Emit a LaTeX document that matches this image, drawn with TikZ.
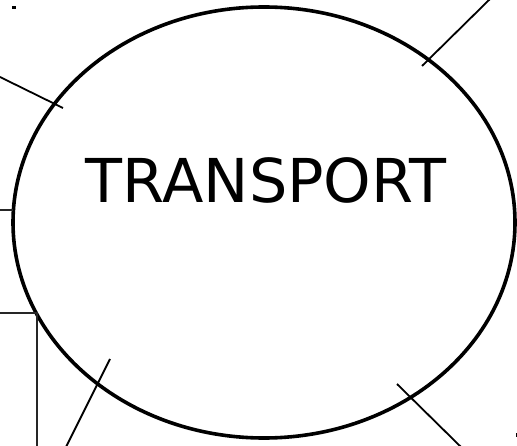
\documentclass[tikz,border=0pt]{standalone}
\usepackage{fontspec}
\setmainfont{DejaVu Sans}
\usetikzlibrary{shapes.geometric}

\begin{document}
\begin{tikzpicture}[x=1pt,y=-1pt]
  \tikzset{
    ray/.style={line width=1.8pt},
    frame/.style={line width=1.2pt,draw=black!85}
  }
  \useasboundingbox (0,0) rectangle (517,446);
  \node[draw,ellipse,line width=3.6pt,inner sep=0pt,
        minimum width=502pt,minimum height=431pt] (transport) at (264,222.5) {};
  \node[font=\fontsize{60.5}{72}\selectfont] (title) at (266,180.5) {TRANSPORT};
  % lines sticking out of the ellipse
  \coordinate (ulin) at (63,108);   \coordinate (ulout) at (0,77);
  \coordinate (urin) at (422,66);   \coordinate (urout) at (490,-1);
  \coordinate (llin) at (110,359);  \coordinate (llout) at (66,447);
  \coordinate (lrin) at (397,384);  \coordinate (lrout) at (461,447);
  \draw[ray] (ulin) -- (ulout);
  \draw[ray] (urin) -- (urout);
  \draw[ray] (llin) -- (llout);
  \draw[ray] (lrin) -- (lrout);
  % left side
  \coordinate (westtick) at (13,210);
  \draw[frame] (westtick) -- (0,210);
  \coordinate (corner) at (37,313);
  \draw[frame] (0,313) -- (corner) -- (37,447);
  % small marks
  \fill (12,6) rectangle (16,9);
  \fill (515.5,433) rectangle (517,437);
\end{tikzpicture}
\end{document}
